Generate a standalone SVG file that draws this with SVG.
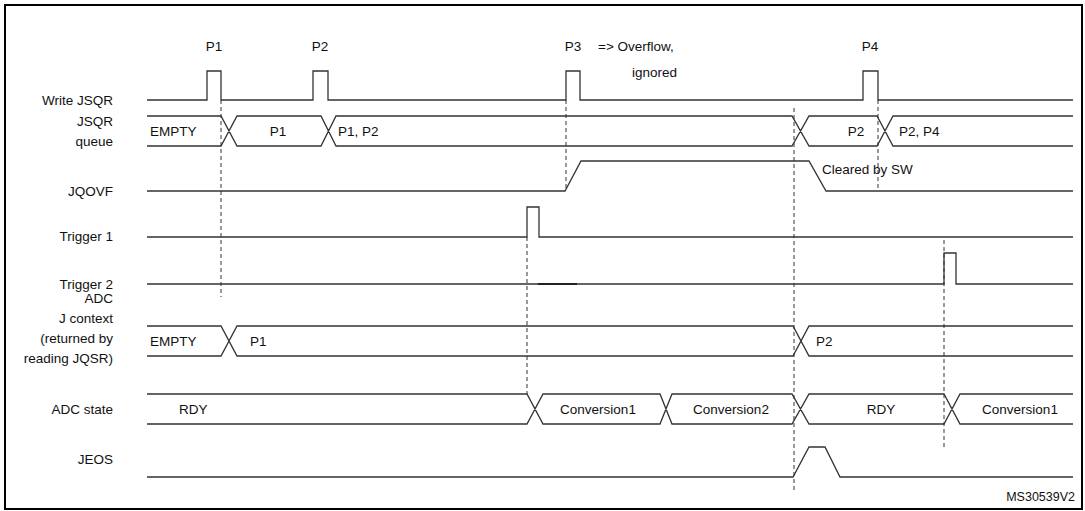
<svg xmlns="http://www.w3.org/2000/svg" width="1085" height="511" viewBox="0 0 1085 511">
<style>
.s{fill:none;stroke:#333;stroke-width:1.3}
.d{fill:none;stroke:#333;stroke-width:1;stroke-dasharray:4,3}
text{font-family:"Liberation Sans",Arial,sans-serif;font-size:13.5px;fill:#111}
.l{text-anchor:end}
.m{text-anchor:middle}
</style>
<rect x="0" y="0" width="1085" height="511" fill="#fff"/>
<rect x="5" y="5" width="1077" height="504" fill="none" stroke="#000" stroke-width="2"/>
<g id="labels">
<text class="l" x="113" y="105">Write JSQR</text>
<text class="l" x="113" y="126">JSQR</text>
<text class="l" x="113" y="146">queue</text>
<text class="l" x="113" y="196">JQOVF</text>
<text class="l" x="113" y="241">Trigger 1</text>
<text class="l" x="113" y="289">Trigger 2</text>
<text class="l" x="113" y="303">ADC</text>
<text class="l" x="113" y="323">J context</text>
<text class="l" x="113" y="343">(returned by</text>
<text class="l" x="113" y="363">reading JQSR)</text>
<text class="l" x="113" y="414">ADC state</text>
<text class="l" x="113" y="464">JEOS</text>
<text class="m" x="214" y="51">P1</text>
<text class="m" x="320" y="51">P2</text>
<text class="m" x="573" y="51">P3</text>
<text x="598" y="51">=&gt; Overflow,</text>
<text x="632" y="77">ignored</text>
<text class="m" x="870" y="51">P4</text>
<text x="822" y="174">Cleared by SW</text>
<text x="1075" y="501" style="text-anchor:end;font-size:12.5px">MS30539V2</text>
</g>
<g id="write-jsqr"><path class="s" d="M147 100H207V71H221V100H313V71H328V100H566V71H580V100H863V71H878V100H1073"/></g>
<g id="jsqr-queue">
<path class="s" d="M147 116H221L237 146H321L336 116H792L809 146H877L893 116H1073M147 146H221L237 116H321L336 146H792L809 116H877L893 146H1073"/>
<text x="150" y="136">EMPTY</text><text class="m" x="278" y="136">P1</text><text x="338" y="136">P1, P2</text>
<text class="m" x="856" y="136">P2</text><text x="899" y="136">P2, P4</text>
</g>
<g id="jqovf"><path class="s" d="M147 191H565L581 161H809L826 191H1073"/></g>
<g id="trigger1"><path class="s" d="M147 237H527V207H539V237H1073"/></g>
<g id="trigger2"><path class="s" d="M147 284H944V253H956V284H1073"/><path d="M538 284H577" stroke="#222" stroke-width="1.8"/></g>
<g id="adc-jcontext">
<path class="s" d="M147 326H221L237 356H793L809 326H1073M147 356H221L237 326H793L809 356H1073"/>
<text x="150" y="346">EMPTY</text><text x="250" y="346">P1</text><text x="816" y="346">P2</text>
</g>
<g id="adc-state">
<path class="s" d="M147 394H527L543 424H660L672 394H792L809 424H944L960 394H1073M147 424H527L543 394H660L672 424H792L809 394H944L960 424H1073"/>
<text x="179" y="414">RDY</text><text class="m" x="598" y="414">Conversion1</text><text class="m" x="731" y="414">Conversion2</text>
<text class="m" x="881" y="414">RDY</text><text class="m" x="1020" y="414">Conversion1</text>
</g>
<g id="jeos"><path class="s" d="M147 477H793L809 447H825L840 477H1073"/></g>
<g id="connectors">
<path class="d" d="M221 100V297M566 100V191M527 237V394M794 108V490M878 100V190M944 240V450"/>
</g>
</svg>
